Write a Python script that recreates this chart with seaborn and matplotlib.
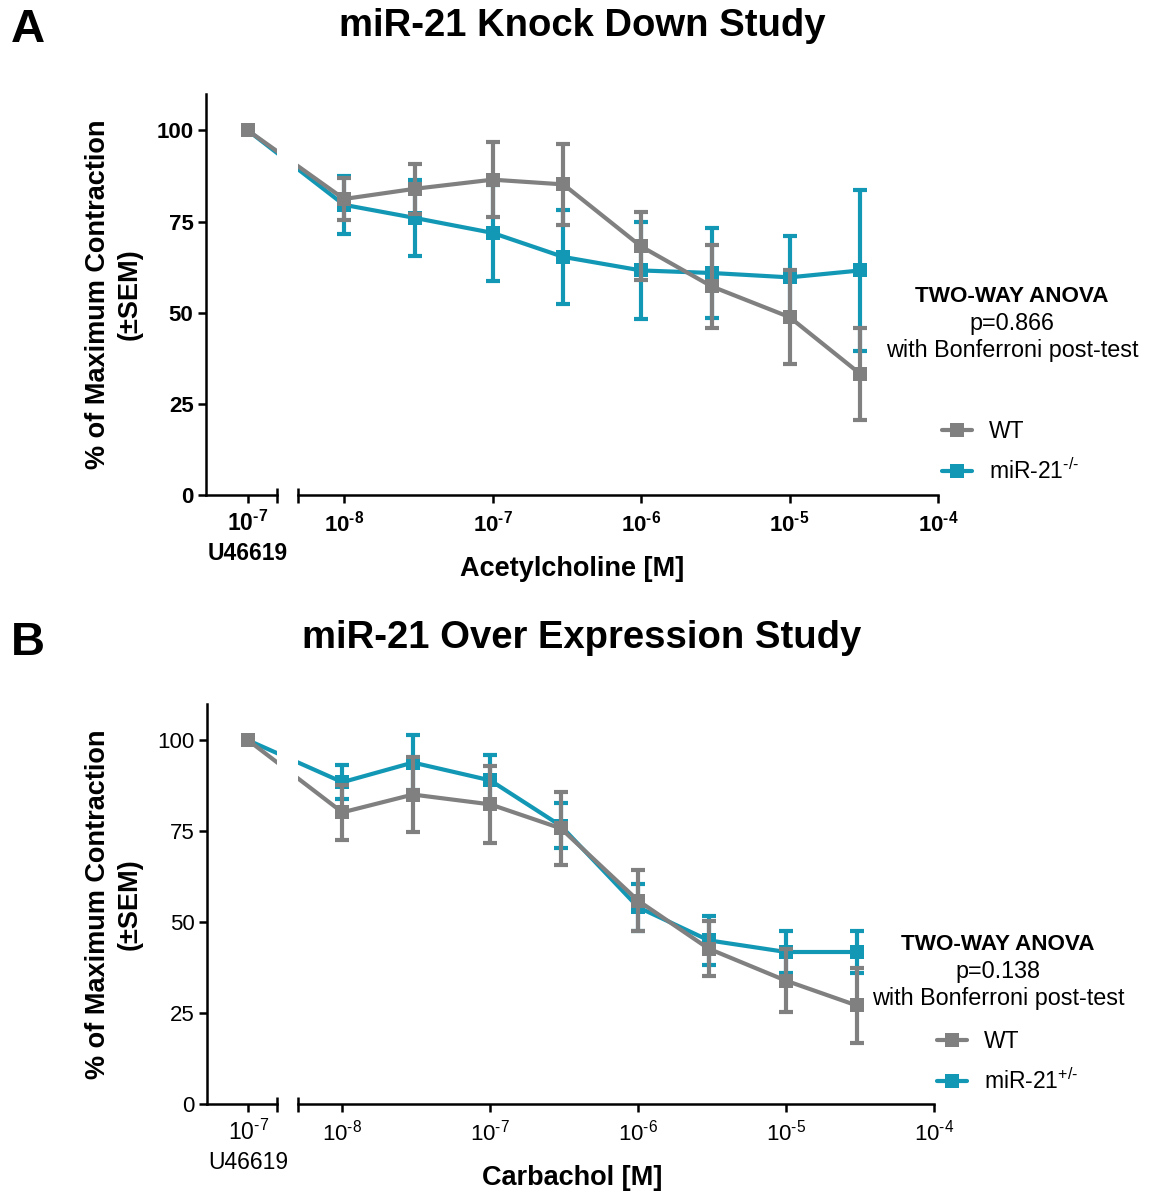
import numpy as np
import pandas as pd
import matplotlib
matplotlib.use("Agg")
import matplotlib.pyplot as plt
import seaborn as sns
from matplotlib.lines import Line2D
from matplotlib.ticker import FixedLocator, NullLocator
from matplotlib import font_manager as fm

# ---------------- data ----------------
conc = [1e-8, 3e-8, 1e-7, 3e-7, 1e-6, 3e-6, 1e-5, 3e-5]
decade_ticks = [1e-8, 1e-7, 1e-6, 1e-5, 1e-4]
decade_labels = ["8", "7", "6", "5", "4"]
baseline = 100.0          # U46619 10^-7 pre-contraction
y_ticks = [0, 25, 50, 75, 100]

a_wt_mean = [81.2, 84.0, 86.5, 85.2, 68.2, 57.2, 48.8, 33.2]
a_wt_sem = [5.7, 6.8, 10.2, 11.1, 9.3, 11.4, 13.0, 12.7]
a_ko_mean = [79.6, 76.0, 71.9, 65.3, 61.6, 60.9, 59.7, 61.6]
a_ko_sem = [8.0, 10.5, 13.1, 12.8, 13.2, 12.4, 11.3, 22.0]

b_wt_mean = [80.2, 85.1, 82.4, 75.8, 55.9, 42.7, 33.9, 27.1]
b_wt_sem = [7.5, 10.2, 10.6, 10.0, 8.4, 7.6, 8.7, 10.3]
b_oe_mean = [88.5, 93.9, 89.0, 76.5, 54.1, 45.0, 41.8, 41.8]
b_oe_sem = [4.6, 7.6, 7.1, 6.2, 6.5, 6.7, 5.7, 5.8]

GRAY = "#808080"
TEAL = "#1298B5"
HY = "\u2010"  # hyphen used in superscripts

# ---------------- style ----------------
sns.set_style("ticks")
names = {f.name for f in fm.fontManager.ttflist}
BASE = "Liberation Sans"
TICKF = "Liberation Sans Narrow" if "Liberation Sans Narrow" in names else BASE
plt.rcParams["font.family"] = [BASE, "DejaVu Sans"]
plt.rcParams["mathtext.fontset"] = "custom"
plt.rcParams["mathtext.rm"] = TICKF
plt.rcParams["mathtext.it"] = TICKF + ":italic"
plt.rcParams["mathtext.bf"] = TICKF + ":bold"
for k in ["text.color", "axes.labelcolor", "xtick.color", "ytick.color",
          "axes.edgecolor"]:
    plt.rcParams[k] = "black"

W, H = 1154, 1193
fig = plt.figure(figsize=(W / 100, H / 100), dpi=100)


def px_axes(x0, x1, y0, y1):
    return fig.add_axes([x0 / W, 1 - y1 / H, (x1 - x0) / W, (y1 - y0) / H])


def build_panel(ax_left_px, gap_px, right_px, top_px, bottom_px, xmin_exp,
                series, bold, letter, letter_y, title, title_y, xlabel, xlabel_y,
                ylabel_y, stats, stats_x, stats_y, leg_x, leg_y, leg_labels):
    axL = px_axes(ax_left_px, gap_px[0], top_px, bottom_px)
    axR = px_axes(gap_px[1], right_px, top_px, bottom_px)
    for ax in (axL, axR):
        ax.set_ylim(0, 110)
        ax.patch.set_alpha(0)
    axL.set_xlim(-0.59, 0.41)
    axR.set_xscale("log")
    axR.set_xlim(10 ** xmin_exp, 1e-4)

    wt = "bold" if bold else "normal"
    for ax in (axL, axR):
        ax.spines["top"].set_visible(False)
        ax.spines["right"].set_visible(False)
        ax.spines["bottom"].set_linewidth(1.8)
        ax.spines["left"].set_linewidth(1.8)
        ax.tick_params(width=1.8, length=5.5, direction="out", color="black",
                       labelcolor="black")
        ax.tick_params(axis="x", pad=5.5)
    axR.spines["left"].set_visible(False)
    axR.tick_params(axis="y", left=False, labelleft=False)

    axL.yaxis.set_major_locator(FixedLocator(y_ticks))
    axL.set_yticklabels([str(v) for v in y_ticks], fontsize=16, fontweight=wt,
                        family=TICKF)
    axL.xaxis.set_major_locator(FixedLocator([0]))
    if bold:
        ulab = r"$\mathbf{10^{%s7}}$" % HY + "\nU46619"
        dlabs = [r"$\mathbf{10^{%s%s}}$" % (HY, e) for e in decade_labels]
    else:
        ulab = r"$\mathrm{10^{%s7}}$" % HY + "\nU46619"
        dlabs = [r"$\mathrm{10^{%s%s}}$" % (HY, e) for e in decade_labels]
    axL.set_xticklabels([ulab], fontsize=16.5, fontweight=wt, family=TICKF,
                        linespacing=1.35)
    axR.xaxis.set_major_locator(FixedLocator(decade_ticks))
    axR.xaxis.set_minor_locator(NullLocator())
    axR.set_xticklabels(dlabs, fontsize=16, fontweight=wt, family=TICKF)

    # break markers on the x axis
    axL.plot([1, 1], [-0.02, 0.018], transform=axL.transAxes, color="black",
             lw=1.8, clip_on=False, solid_capstyle="butt")
    axR.plot([0, 0], [-0.02, 0.018], transform=axR.transAxes, color="black",
             lw=1.8, clip_on=False, solid_capstyle="butt")

    for (mean, sem, color, z) in series:
        dispR = axR.transData.transform((conc[0], mean[0]))
        xl, yl = axL.transData.inverted().transform(dispR)
        dispL = axL.transData.transform((0, baseline))
        xr, yr = axR.transData.inverted().transform(dispL)
        axL.plot([0, xl], [baseline, yl], color=color, lw=3, zorder=z)
        axR.plot([xr, conc[0]], [yr, mean[0]], color=color, lw=3, zorder=z)
        sns.scatterplot(x=[0], y=[baseline], ax=axL, color=color, marker="s",
                        s=115, linewidth=0, zorder=z + 0.5, legend=False)
        axR.errorbar(conc, mean, yerr=sem, fmt="none", ecolor=color,
                     elinewidth=3, capsize=5, capthick=3, zorder=z)
        sns.lineplot(x=conc, y=mean, ax=axR, color=color, marker="s",
                     markersize=10.5, markeredgewidth=0, linewidth=3,
                     zorder=z + 0.5)
    for ax in (axL, axR):
        ax.set_xlabel("")
        ax.set_ylabel("")

    fig.text(28 / W, 1 - letter_y / H, letter, fontsize=34, fontweight="bold",
             ha="center", va="center")
    fig.text(582 / W, 1 - title_y / H, title, fontsize=27.5, fontweight="bold",
             ha="center", va="center")
    fig.text(572 / W, 1 - xlabel_y / H, xlabel, fontsize=19.5,
             fontweight="bold", ha="center", va="center")
    fig.text(114 / W, 1 - ylabel_y / H,
             "% of Maximum Contraction\n(\u00b1SEM)", fontsize=19.5,
             fontweight="bold", rotation=90, ha="center", va="center",
             multialignment="center", linespacing=1.25)
    for i, line in enumerate(stats):
        fig.text(stats_x / W, 1 - (stats_y + 27.5 * i) / H, line,
                 fontsize=16.2 if i == 0 else 16.8,
                 fontweight="bold" if i == 0 else "normal",
                 ha="center", va="center")
    handles = [Line2D([], [], color=GRAY, marker="s", markersize=10, lw=3,
                      markeredgewidth=0),
               Line2D([], [], color=TEAL, marker="s", markersize=10, lw=3,
                      markeredgewidth=0)]
    fig.legend(handles, leg_labels, loc="center left",
               bbox_to_anchor=(leg_x / W, 1 - leg_y / H),
               bbox_transform=fig.transFigure, frameon=False, fontsize=16.5,
               handlelength=1.3, handletextpad=0.75, labelspacing=0.7,
               borderpad=0, borderaxespad=0)
    return axL, axR


build_panel(206, (277, 298), 938, 94, 495, -8.31,
            [(a_ko_mean, a_ko_sem, TEAL, 3), (a_wt_mean, a_wt_sem, GRAY, 4)],
            True, "A", 30, "miR-21 Knock Down Study", 26,
            "Acetylcholine [M]", 569, 294,
            ["TWO-WAY ANOVA", "p=0.866", "with Bonferroni post-test"],
            1012, 296, 942, 452,
            ["WT", r"miR-21$^{\mathregular{%s/%s}}$" % (HY, HY)])

build_panel(207, (277, 298), 934, 704, 1104, -8.30,
            [(b_oe_mean, b_oe_sem, TEAL, 3), (b_wt_mean, b_wt_sem, GRAY, 4)],
            False, "B", 643, "miR-21 Over Expression Study", 638,
            "Carbachol [M]", 1178, 904,
            ["TWO-WAY ANOVA", "p=0.138", "with Bonferroni post-test"],
            998, 944, 937, 1062,
            ["WT", r"miR-21$^{\mathregular{+/%s}}$" % HY])

fig.savefig("out.png", dpi=100)
